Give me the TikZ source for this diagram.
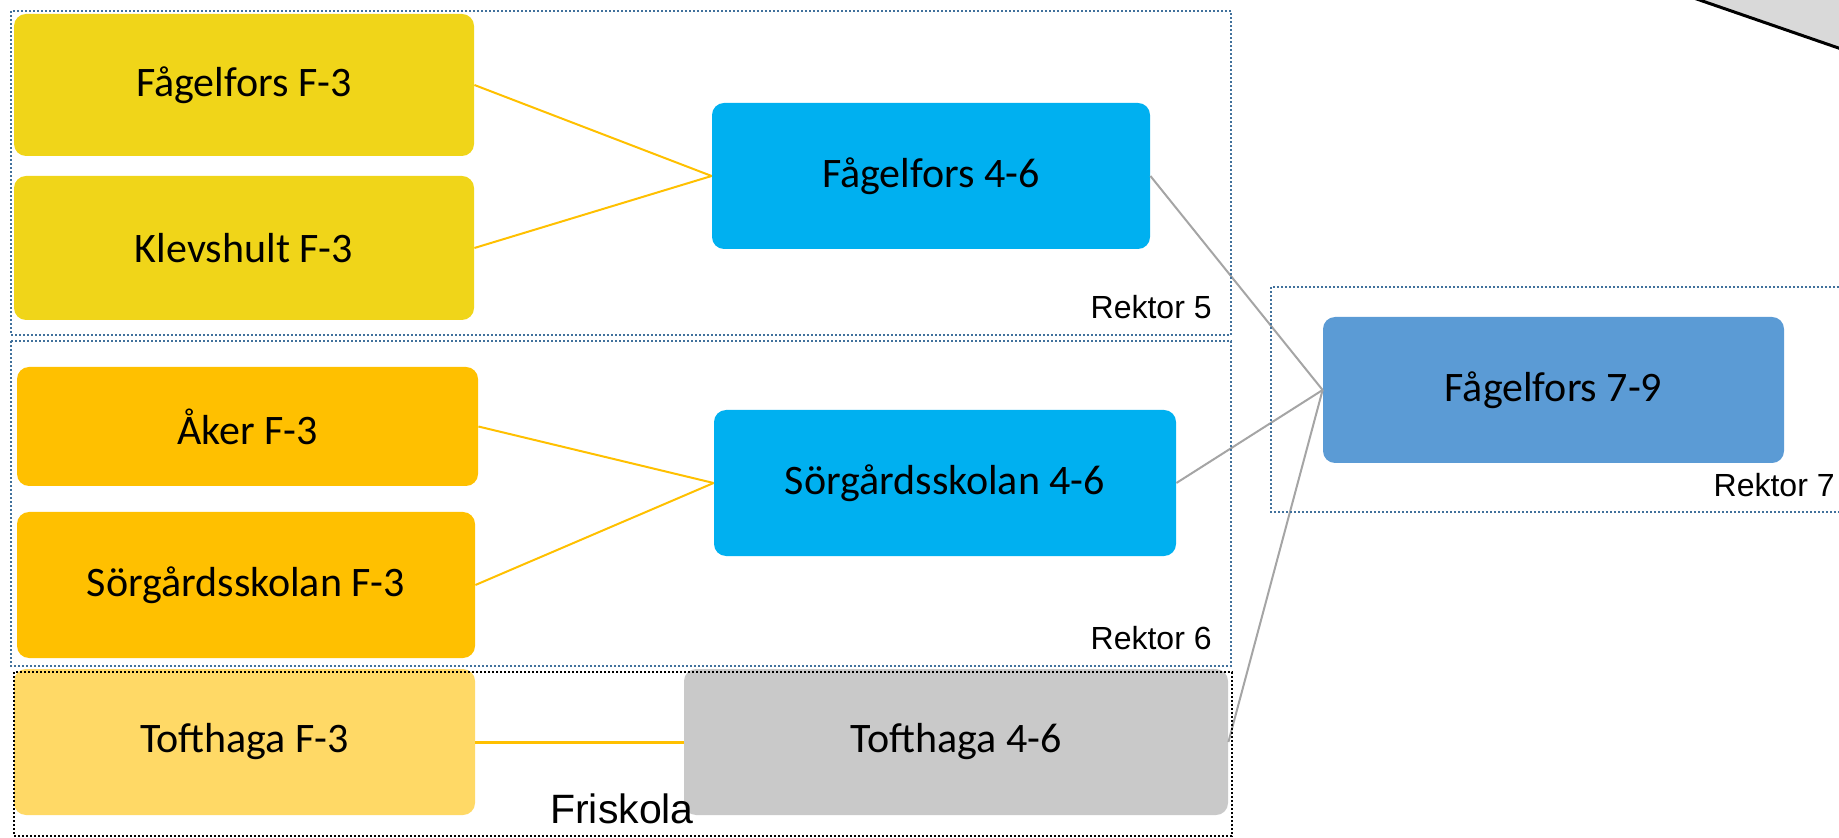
\documentclass[tikz,border=0pt]{standalone}
\usepackage{fontspec}
\setmainfont{Carlito}
\newfontfamily\arialfont{Liberation Sans}

\definecolor{lowyellow}{RGB}{240,213,25}
\definecolor{lowamber}{RGB}{255,192,0}
\definecolor{lowpale}{RGB}{255,217,102}
\definecolor{midblue}{RGB}{0,176,240}
\definecolor{highblue}{RGB}{91,155,213}
\definecolor{freegray}{RGB}{201,201,201}
\definecolor{linkgray}{RGB}{165,165,165}
\definecolor{framecol}{RGB}{65,113,156}

\begin{document}
\begin{tikzpicture}[x=0.5pt, y=-0.5pt,
    school/.style={rectangle, rounded corners=6pt, inner sep=0pt,
      minimum height=73pt, font=\fontsize{21}{25}\selectfont},
    rektorbox/.style={draw=framecol, line width=1pt, dash pattern=on 1pt off 1pt},
    rektorlabel/.style={anchor=east, inner sep=0pt,
      font=\arialfont\fontsize{16}{19}\selectfont},
    lowlink/.style={draw=lowamber, line width=1pt},
    highlink/.style={draw=linkgray, line width=1pt}]
  \clip (0,0) rectangle (1839,838);
  % corner of the next shape
  \filldraw[fill=gray!30, draw=black, line width=1.5pt]
      (1685,-5) -- (1850,52) -- (1850,-5) -- cycle;
  % F-3
  \node[school, fill=lowyellow, minimum width=230pt, minimum height=71pt] (fagelforsF) at (244,85) {Fågelfors F-3};
  \node[school, fill=lowyellow, minimum width=230pt, minimum height=72pt] (klevshultF) at (244,248) {Klevshult F-3};
  \node[school, fill=lowamber, minimum width=230.5pt, minimum height=59.5pt] (akerF) at (247.5,426.5) {Åker F-3};
  \node[school, fill=lowamber, minimum width=229pt] (sorgardF) at (246,585) {Sörgårdsskolan F-3};
  \node[school, fill=lowpale, minimum width=230.5pt] (tofthagaF) at (244.5,742) {Tofthaga F-3};
  % 4-6
  \node[school, fill=midblue, minimum width=219pt] (fagelforsM) at (931,176) {Fågelfors 4-6};
  \node[school, fill=midblue, minimum width=231pt] (sorgardM) at (945,483) {Sörgårdsskolan 4-6};
  \node[school, fill=freegray, minimum width=272pt] (tofthagaM) at (956,742) {Tofthaga 4-6};
  % 7-9
  \node[school, fill=highblue, minimum width=230.5pt] (fagelforsH) at (1553.5,390) {Fågelfors 7-9};
  % links
  \draw[lowlink] (fagelforsF.east) -- (fagelforsM.west);
  \draw[lowlink] (klevshultF.east) -- (fagelforsM.west);
  \draw[lowlink] (akerF.east) -- (sorgardM.west);
  \draw[lowlink] (sorgardF.east) -- (sorgardM.west);
  \draw[lowlink, line width=1.5pt] (tofthagaF.east) -- (tofthagaM.west);
  \draw[highlink] (fagelforsM.east) -- (fagelforsH.west);
  \draw[highlink] (sorgardM.east) -- (fagelforsH.west);
  \draw[highlink] (tofthagaM.east) -- (fagelforsH.west);
  % rektor areas
  \draw[rektorbox] (11,11) rectangle (1231,335);
  \draw[rektorbox] (11,341) rectangle (1231,666);
  \draw[rektorbox] (1271,287) rectangle (1850,512);
  \draw[draw=black, line width=1pt, dash pattern=on 1pt off 1pt] (14,672) rectangle (1232,836);
  \node[rektorlabel] (rektorA) at (1212,307) {Rektor 5};
  \node[rektorlabel] (rektorB) at (1212,638) {Rektor 6};
  \node[rektorlabel] (rektorC) at (1835,485) {Rektor 7};
  \node[font=\arialfont\fontsize{20.5}{24}\selectfont, inner sep=0pt] (friskola) at (622,809) {Friskola};
\end{tikzpicture}
\end{document}
